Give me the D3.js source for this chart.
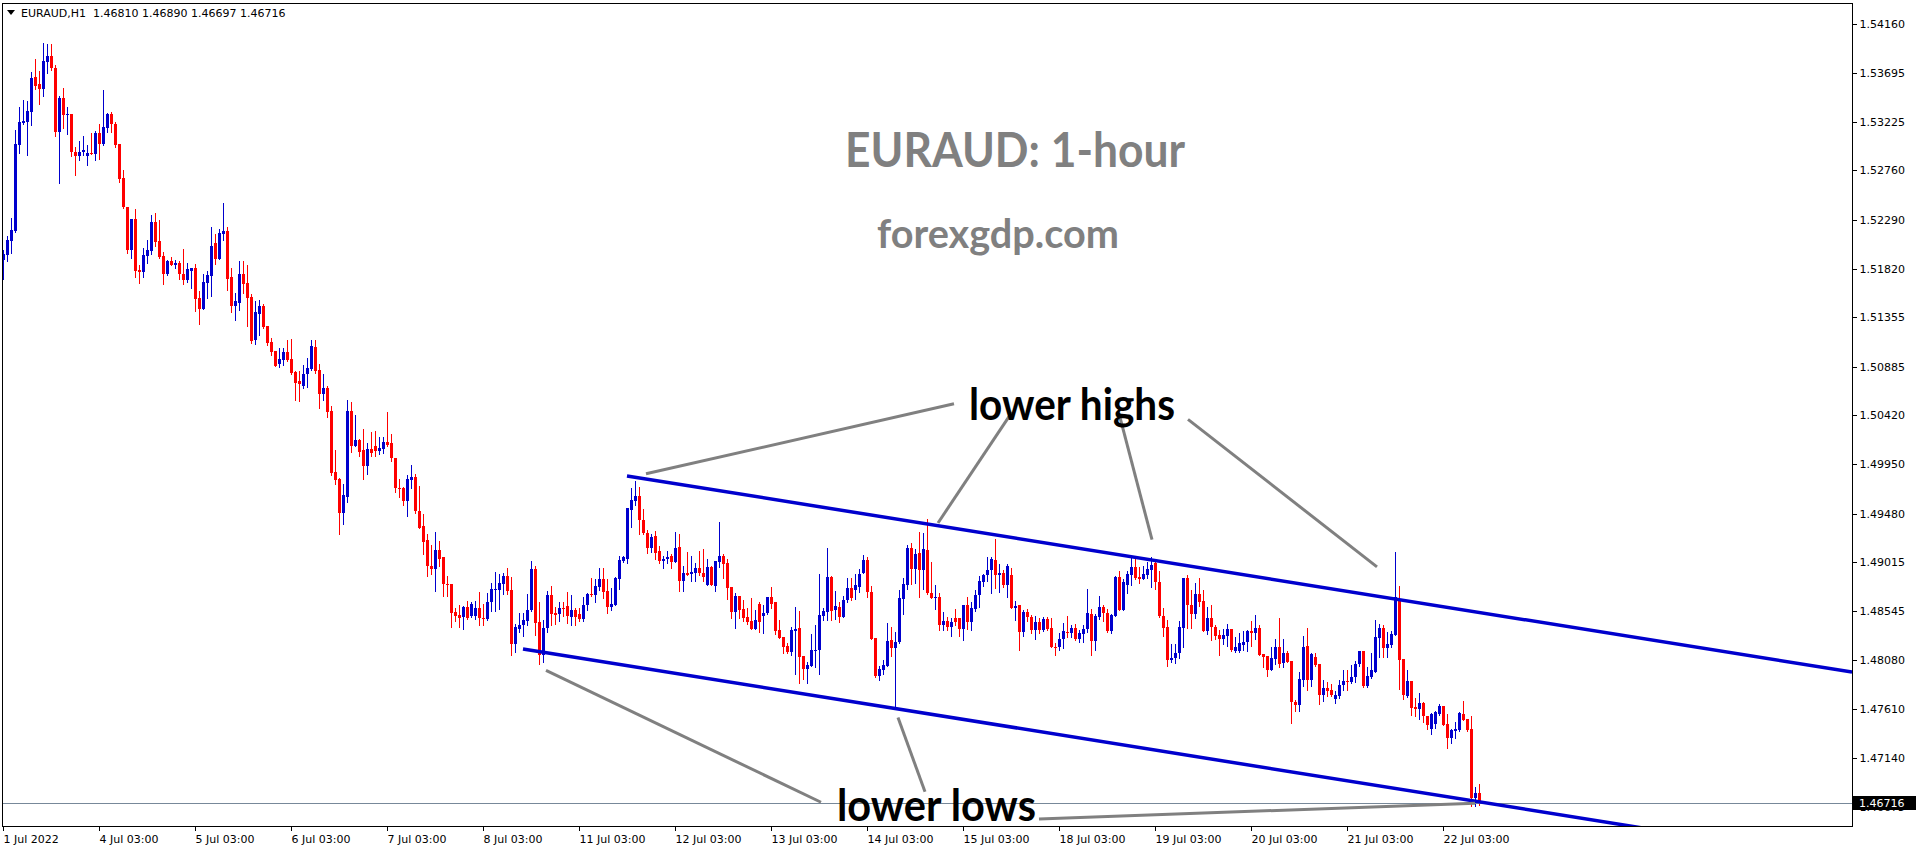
<!DOCTYPE html>
<html><head><meta charset="utf-8">
<script src="https://cdn.jsdelivr.net/npm/d3@7"></script>
<style>
html,body{margin:0;padding:0;background:#fff;overflow:hidden;}
svg{display:block;}
</style></head><body>
<svg id="chart" width="1916" height="850"></svg>
<script>
// ---------- DATA ----------
const symbolLabel = "EURAUD,H1";
const headerOHLC = ["1.46810", "1.46890", "1.46697", "1.46716"];
const chartTitle = "EURAUD: 1-hour";
const chartSite = "forexgdp.com";

const openPrice = [
1.5190,1.5195,1.5209,1.5218,1.5300,1.5321,1.5322,1.5332,1.5365,1.5359,
1.5354,1.5380,1.5385,1.5374,1.5313,1.5345,1.5329,1.5330,1.5294,1.5290,
1.5294,1.5290,1.5293,1.5292,1.5312,1.5301,1.5317,1.5330,1.5320,1.5301,
1.5269,1.5241,1.5200,1.5230,1.5181,1.5179,1.5194,1.5199,1.5227,1.5209,
1.5194,1.5177,1.5189,1.5186,1.5188,1.5177,1.5171,1.5180,1.5183,1.5154,
1.5144,1.5168,1.5175,1.5207,1.5191,1.5215,1.5218,1.5174,1.5146,1.5149,
1.5177,1.5168,1.5155,1.5114,1.5139,1.5146,1.5127,1.5112,1.5103,1.5091,
1.5095,1.5102,1.5096,1.5083,1.5075,1.5070,1.5081,1.5086,1.5107,1.5085,
1.5062,1.5068,1.5046,1.4988,1.4981,1.4949,1.4964,1.5046,1.5013,1.5018,
1.5009,1.4993,1.5010,1.5013,1.5008,1.5010,1.5016,1.5015,1.5001,1.4972,
1.4972,1.4960,1.4980,1.4983,1.4950,1.4936,1.4923,1.4898,1.4895,1.4913,
1.4906,1.4881,1.4881,1.4854,1.4851,1.4849,1.4859,1.4850,1.4850,1.4858,
1.4848,1.4847,1.4863,1.4875,1.4875,1.4881,1.4888,1.4875,1.4823,1.4838,
1.4841,1.4845,1.4856,1.4895,1.4844,1.4813,1.4839,1.4870,1.4853,1.4852,
1.4858,1.4860,1.4849,1.4856,1.4852,1.4847,1.4861,1.4871,1.4870,1.4878,
1.4885,1.4874,1.4859,1.4861,1.4885,1.4903,1.4905,1.4951,1.4960,1.4965,
1.4942,1.4929,1.4915,1.4927,1.4912,1.4903,1.4905,1.4907,1.4902,1.4916,
1.4884,1.4891,1.4890,1.4891,1.4896,1.4891,1.4880,1.4897,1.4879,1.4902,
1.4907,1.4901,1.4878,1.4854,1.4869,1.4857,1.4849,1.4845,1.4838,1.4862,
1.4850,1.4853,1.4868,1.4863,1.4837,1.4830,1.4821,1.4816,1.4836,1.4839,
1.4812,1.4799,1.4802,1.4817,1.4818,1.4850,1.4854,1.4887,1.4856,1.4859,
1.4849,1.4865,1.4877,1.4875,1.4878,1.4891,1.4904,1.4873,1.4829,1.4793,
1.4798,1.4802,1.4827,1.4819,1.4825,1.4866,1.4880,1.4915,1.4895,1.4910,
1.4894,1.4913,1.4872,1.4867,1.4868,1.4841,1.4845,1.4840,1.4848,1.4848,
1.4838,1.4861,1.4844,1.4857,1.4870,1.4883,1.4889,1.4894,1.4904,1.4889,
1.4891,1.4880,1.4889,1.4858,1.4861,1.4835,1.4854,1.4849,1.4837,1.4844,
1.4837,1.4847,1.4839,1.4820,1.4820,1.4828,1.4835,1.4834,1.4839,1.4828,
1.4833,1.4838,1.4852,1.4826,1.4849,1.4859,1.4853,1.4836,1.4850,1.4887,
1.4856,1.4880,1.4889,1.4897,1.4887,1.4885,1.4889,1.4894,1.4901,1.4883,
1.4850,1.4840,1.4808,1.4810,1.4815,1.4839,1.4886,1.4861,1.4852,1.4871,
1.4864,1.4836,1.4848,1.4840,1.4832,1.4828,1.4831,1.4838,1.4817,1.4817,
1.4822,1.4825,1.4836,1.4834,1.4839,1.4814,1.4812,1.4798,1.4809,1.4820,
1.4805,1.4815,1.4807,1.4768,1.4765,1.4789,1.4821,1.4789,1.4811,1.4804,
1.4775,1.4781,1.4779,1.4771,1.4774,1.4784,1.4788,1.4787,1.4792,1.4804,
1.4817,1.4783,1.4792,1.4797,1.4829,1.4839,1.4819,1.4822,1.4832,1.4866,
1.4809,1.4774,1.4788,1.4763,1.4761,1.4767,1.4754,1.4742,1.4747,1.4756,
1.4764,1.4747,1.4733,1.4740,1.4741,1.4756,1.4752,1.4742,1.4676,1.46810
];
const highPrice = [
1.5200,1.5213,1.5231,1.5315,1.5337,1.5343,1.5342,1.5370,1.5383,1.5371,
1.5398,1.5397,1.5397,1.5377,1.5347,1.5355,1.5337,1.5330,1.5298,1.5304,
1.5309,1.5300,1.5312,1.5314,1.5320,1.5353,1.5331,1.5332,1.5322,1.5301,
1.5276,1.5241,1.5230,1.5239,1.5186,1.5202,1.5210,1.5233,1.5235,1.5229,
1.5198,1.5190,1.5193,1.5190,1.5189,1.5201,1.5188,1.5183,1.5187,1.5161,
1.5177,1.5180,1.5222,1.5215,1.5220,1.5245,1.5222,1.5183,1.5159,1.5189,
1.5189,1.5186,1.5158,1.5151,1.5152,1.5148,1.5127,1.5116,1.5103,1.5106,
1.5106,1.5114,1.5115,1.5084,1.5084,1.5090,1.5097,1.5114,1.5114,1.5091,
1.5081,1.5070,1.5051,1.5009,1.4982,1.4976,1.5057,1.5055,1.5042,1.5019,
1.5029,1.5015,1.5026,1.5027,1.5021,1.5021,1.5045,1.5024,1.5001,1.4981,
1.4973,1.4985,1.4994,1.4986,1.4974,1.4948,1.4928,1.4918,1.4930,1.4922,
1.4906,1.4888,1.4881,1.4858,1.4861,1.4860,1.4864,1.4863,1.4864,1.4873,
1.4862,1.4872,1.4882,1.4892,1.4890,1.4891,1.4896,1.4887,1.4842,1.4853,
1.4853,1.4871,1.4903,1.4898,1.4863,1.4846,1.4874,1.4879,1.4859,1.4863,
1.4863,1.4873,1.4870,1.4858,1.4858,1.4868,1.4872,1.4886,1.4885,1.4896,
1.4896,1.4885,1.4877,1.4887,1.4907,1.4907,1.4953,1.4972,1.4979,1.4973,
1.4952,1.4932,1.4928,1.4931,1.4917,1.4907,1.4912,1.4909,1.4930,1.4928,
1.4898,1.4911,1.4907,1.4901,1.4912,1.4914,1.4905,1.4898,1.4903,1.4940,
1.4909,1.4905,1.4878,1.4872,1.4869,1.4865,1.4858,1.4867,1.4856,1.4863,
1.4861,1.4868,1.4878,1.4863,1.4846,1.4830,1.4824,1.4840,1.4859,1.4855,
1.4812,1.4806,1.4833,1.4841,1.4890,1.4858,1.4915,1.4888,1.4874,1.4863,
1.4869,1.4886,1.4886,1.4890,1.4895,1.4908,1.4906,1.4879,1.4829,1.4802,
1.4808,1.4843,1.4840,1.4835,1.4875,1.4886,1.4918,1.4920,1.4914,1.4930,
1.4929,1.4943,1.4902,1.4880,1.4872,1.4854,1.4849,1.4848,1.4857,1.4848,
1.4861,1.4868,1.4863,1.4875,1.4888,1.4890,1.4906,1.4906,1.4924,1.4900,
1.4894,1.4900,1.4896,1.4864,1.4861,1.4856,1.4857,1.4851,1.4850,1.4848,
1.4849,1.4849,1.4848,1.4824,1.4834,1.4843,1.4850,1.4841,1.4842,1.4837,
1.4841,1.4876,1.4857,1.4852,1.4869,1.4861,1.4857,1.4852,1.4888,1.4893,
1.4885,1.4893,1.4907,1.4905,1.4897,1.4898,1.4902,1.4906,1.4905,1.4893,
1.4858,1.4846,1.4823,1.4823,1.4845,1.4886,1.4889,1.4875,1.4882,1.4886,
1.4875,1.4859,1.4861,1.4841,1.4837,1.4838,1.4842,1.4838,1.4830,1.4834,
1.4836,1.4837,1.4845,1.4851,1.4841,1.4814,1.4812,1.4820,1.4828,1.4848,
1.4828,1.4817,1.4807,1.4770,1.4797,1.4831,1.4839,1.4815,1.4815,1.4804,
1.4789,1.4787,1.4785,1.4778,1.4789,1.4798,1.4798,1.4803,1.4807,1.4817,
1.4817,1.4801,1.4815,1.4846,1.4842,1.4841,1.4835,1.4836,1.4911,1.4879,
1.4809,1.4798,1.4788,1.4772,1.4776,1.4768,1.4754,1.4757,1.4759,1.4766,
1.4764,1.4756,1.4742,1.4749,1.4758,1.4769,1.4752,1.4754,1.4687,1.46890
];
const lowPrice = [
1.5172,1.5189,1.5197,1.5217,1.5293,1.5320,1.5291,1.5319,1.5354,1.5340,
1.5347,1.5369,1.5372,1.5309,1.5264,1.5317,1.5311,1.5290,1.5272,1.5286,
1.5291,1.5281,1.5292,1.5286,1.5287,1.5300,1.5313,1.5313,1.5298,1.5265,
1.5240,1.5197,1.5192,1.5174,1.5168,1.5174,1.5188,1.5196,1.5204,1.5192,
1.5167,1.5176,1.5186,1.5183,1.5172,1.5167,1.5169,1.5164,1.5142,1.5129,
1.5144,1.5154,1.5156,1.5187,1.5191,1.5210,1.5162,1.5141,1.5133,1.5143,
1.5159,1.5127,1.5111,1.5110,1.5119,1.5125,1.5109,1.5100,1.5089,1.5088,
1.5090,1.5094,1.5081,1.5057,1.5056,1.5068,1.5069,1.5085,1.5082,1.5049,
1.5057,1.5040,1.4985,1.4976,1.4928,1.4938,1.4959,1.5007,1.5013,1.5003,
1.4981,1.4986,1.5003,1.5003,1.5005,1.5006,1.5013,1.4998,1.4969,1.4964,
1.4956,1.4946,1.4972,1.4949,1.4934,1.4909,1.4888,1.4890,1.4874,1.4898,
1.4869,1.4869,1.4840,1.4845,1.4840,1.4838,1.4847,1.4849,1.4847,1.4841,
1.4841,1.4846,1.4855,1.4855,1.4857,1.4871,1.4871,1.4813,1.4816,1.4835,
1.4831,1.4841,1.4855,1.4832,1.4804,1.4806,1.4835,1.4841,1.4842,1.4845,
1.4850,1.4843,1.4841,1.4841,1.4845,1.4845,1.4856,1.4869,1.4863,1.4875,
1.4867,1.4853,1.4856,1.4861,1.4876,1.4902,1.4901,1.4935,1.4956,1.4928,
1.4928,1.4910,1.4911,1.4905,1.4901,1.4896,1.4901,1.4896,1.4902,1.4874,
1.4874,1.4889,1.4884,1.4884,1.4889,1.4884,1.4880,1.4880,1.4874,1.4897,
1.4886,1.4866,1.4848,1.4839,1.4848,1.4845,1.4842,1.4838,1.4838,1.4835,
1.4834,1.4852,1.4858,1.4833,1.4829,1.4815,1.4815,1.4813,1.4795,1.4786,
1.4790,1.4786,1.4802,1.4801,1.4795,1.4846,1.4846,1.4846,1.4847,1.4844,
1.4849,1.4863,1.4865,1.4866,1.4873,1.4891,1.4868,1.4828,1.4792,1.4789,
1.4795,1.4802,1.4812,1.4764,1.4824,1.4852,1.4876,1.4881,1.4882,1.4868,
1.4876,1.4871,1.4867,1.4857,1.4837,1.4837,1.4837,1.4831,1.4841,1.4831,
1.4827,1.4838,1.4837,1.4855,1.4859,1.4879,1.4884,1.4872,1.4877,1.4873,
1.4878,1.4868,1.4858,1.4846,1.4818,1.4831,1.4845,1.4834,1.4828,1.4834,
1.4836,1.4837,1.4820,1.4813,1.4818,1.4819,1.4830,1.4830,1.4827,1.4825,
1.4825,1.4835,1.4813,1.4818,1.4847,1.4845,1.4835,1.4834,1.4850,1.4856,
1.4856,1.4872,1.4880,1.4885,1.4882,1.4885,1.4886,1.4878,1.4876,1.4849,
1.4831,1.4802,1.4806,1.4805,1.4810,1.4820,1.4839,1.4839,1.4848,1.4860,
1.4836,1.4833,1.4827,1.4828,1.4813,1.4823,1.4821,1.4817,1.4816,1.4816,
1.4818,1.4817,1.4821,1.4828,1.4813,1.4801,1.4793,1.4798,1.4804,1.4801,
1.4801,1.4806,1.4748,1.4759,1.4759,1.4783,1.4779,1.4783,1.4802,1.4766,
1.4769,1.4774,1.4774,1.4767,1.4772,1.4779,1.4779,1.4786,1.4787,1.4802,
1.4782,1.4782,1.4791,1.4797,1.4811,1.4811,1.4811,1.4820,1.4832,1.4780,
1.4771,1.4773,1.4755,1.4754,1.4752,1.4749,1.4742,1.4737,1.4743,1.4755,
1.4746,1.4724,1.4729,1.4733,1.4740,1.4751,1.4740,1.4668,1.4668,1.46697
];
const closePrice = [
1.5196,1.5210,1.5219,1.5301,1.5322,1.5323,1.5333,1.5364,1.5357,1.5354,
1.5381,1.5385,1.5374,1.5313,1.5345,1.5329,1.5330,1.5294,1.5290,1.5294,
1.5296,1.5293,1.5292,1.5312,1.5301,1.5318,1.5330,1.5320,1.5300,1.5268,
1.5241,1.5200,1.5230,1.5180,1.5179,1.5195,1.5200,1.5227,1.5208,1.5193,
1.5177,1.5189,1.5186,1.5188,1.5177,1.5171,1.5182,1.5183,1.5153,1.5144,
1.5169,1.5176,1.5204,1.5191,1.5216,1.5218,1.5172,1.5146,1.5151,1.5177,
1.5167,1.5154,1.5113,1.5141,1.5146,1.5126,1.5111,1.5102,1.5089,1.5096,
1.5102,1.5095,1.5082,1.5073,1.5072,1.5081,1.5087,1.5108,1.5084,1.5062,
1.5068,1.5045,1.4987,1.4980,1.4949,1.4966,1.5046,1.5013,1.5018,1.5007,
1.4993,1.5010,1.5006,1.5008,1.5011,1.5016,1.5014,1.5001,1.4972,1.4971,
1.4960,1.4981,1.4983,1.4950,1.4934,1.4921,1.4898,1.4895,1.4913,1.4905,
1.4881,1.4880,1.4853,1.4850,1.4848,1.4859,1.4848,1.4862,1.4858,1.4848,
1.4847,1.4863,1.4876,1.4876,1.4882,1.4888,1.4874,1.4823,1.4840,1.4841,
1.4846,1.4856,1.4895,1.4843,1.4813,1.4839,1.4870,1.4852,1.4851,1.4858,
1.4857,1.4850,1.4856,1.4849,1.4847,1.4861,1.4871,1.4870,1.4879,1.4885,
1.4873,1.4859,1.4862,1.4886,1.4904,1.4906,1.4953,1.4961,1.4965,1.4942,
1.4929,1.4915,1.4926,1.4910,1.4903,1.4905,1.4906,1.4902,1.4915,1.4884,
1.4891,1.4889,1.4892,1.4896,1.4891,1.4887,1.4897,1.4880,1.4903,1.4907,
1.4900,1.4877,1.4854,1.4869,1.4856,1.4848,1.4844,1.4838,1.4846,1.4844,
1.4853,1.4868,1.4862,1.4836,1.4829,1.4820,1.4816,1.4837,1.4838,1.4811,
1.4799,1.4803,1.4818,1.4818,1.4851,1.4855,1.4887,1.4855,1.4860,1.4849,
1.4865,1.4877,1.4867,1.4880,1.4890,1.4904,1.4873,1.4828,1.4793,1.4799,
1.4803,1.4826,1.4819,1.4825,1.4867,1.4881,1.4915,1.4895,1.4909,1.4894,
1.4914,1.4872,1.4867,1.4868,1.4841,1.4845,1.4840,1.4844,1.4844,1.4838,
1.4861,1.4844,1.4858,1.4870,1.4884,1.4889,1.4894,1.4905,1.4889,1.4891,
1.4880,1.4898,1.4858,1.4860,1.4835,1.4854,1.4849,1.4837,1.4844,1.4837,
1.4847,1.4838,1.4820,1.4819,1.4828,1.4836,1.4834,1.4839,1.4828,1.4834,
1.4838,1.4853,1.4826,1.4850,1.4859,1.4853,1.4836,1.4851,1.4887,1.4856,
1.4883,1.4890,1.4897,1.4886,1.4885,1.4890,1.4895,1.4899,1.4883,1.4850,
1.4839,1.4808,1.4810,1.4815,1.4840,1.4886,1.4861,1.4852,1.4871,1.4863,
1.4836,1.4848,1.4840,1.4831,1.4828,1.4832,1.4838,1.4818,1.4820,1.4824,
1.4825,1.4836,1.4834,1.4839,1.4813,1.4811,1.4798,1.4810,1.4820,1.4804,
1.4815,1.4806,1.4768,1.4765,1.4790,1.4820,1.4789,1.4814,1.4803,1.4775,
1.4781,1.4778,1.4775,1.4775,1.4784,1.4788,1.4787,1.4792,1.4804,1.4817,
1.4783,1.4793,1.4798,1.4830,1.4839,1.4819,1.4823,1.4833,1.4868,1.4808,
1.4775,1.4788,1.4762,1.4761,1.4767,1.4754,1.4746,1.4756,1.4758,1.4764,
1.4746,1.4733,1.4741,1.4742,1.4757,1.4751,1.4741,1.4676,1.4681,1.46716
];

const priceTicks = [1.54160,1.53695,1.53225,1.52760,1.52290,1.51820,1.51355,1.50885,
  1.50420,1.49950,1.49480,1.49015,1.48545,1.48080,1.47610,1.47140,1.46675];
const dateTickBars = [0,24,48,72,96,120,144,168,192,216,240,264,288,312,336,360];
const dateTickLabels = ["1 Jul 2022","4 Jul 03:00","5 Jul 03:00","6 Jul 03:00","7 Jul 03:00",
  "8 Jul 03:00","11 Jul 03:00","12 Jul 03:00","13 Jul 03:00","14 Jul 03:00","15 Jul 03:00",
  "18 Jul 03:00","19 Jul 03:00","20 Jul 03:00","21 Jul 03:00","22 Jul 03:00"];
const lastPrice = 1.46716;

// trend channel anchor points [bar index, price]
const channelUpper = [[156, 1.4984], [347, 1.4867]];
const channelLower = [[130, 1.48185], [369, 1.46724]];
// annotation pointer lines [bar index, price] pairs
const pointerLines = [
  [[237.75, 1.5053], [160.75, 1.4986]],
  [[252.25, 1.5045], [233.75, 1.4939]],
  [[279.25, 1.5040], [287.25, 1.4923]],
  [[296.25, 1.5038], [343.5, 1.4897]],
  [[135.75, 1.4798], [204.5, 1.4672]],
  [[223.75, 1.4753], [230.5, 1.4682]],
  [[259, 1.4656], [368, 1.4671]]
];
const annotationTexts = [
  {text: "lower highs", bar: 241.5, price: 1.5037, width: 206},
  {text: "lower lows", bar: 208.5, price: 1.4654, width: 199}
];

// ---------- LAYOUT ----------
const plot = {left: 2, top: 3, right: 1852, bottom: 826};
const bullColor = "#0000cd", bearColor = "#ff0000";
const svg = d3.select("#chart");

const x = d3.scaleLinear().domain([0, 369]).range([3, 1479]);
const y = d3.scaleLinear().domain([1.46493, 1.54361]).range([plot.bottom, plot.top]);

svg.append("rect").attr("width", 1916).attr("height", 850).attr("fill", "#fff");

svg.append("defs").append("clipPath").attr("id", "plotclip")
  .append("rect").attr("x", plot.left).attr("y", plot.top)
  .attr("width", plot.right - plot.left).attr("height", plot.bottom - plot.top);

const bars = d3.range(openPrice.length).map(i => ({
  i, o: openPrice[i], h: highPrice[i], l: lowPrice[i], c: closePrice[i]
}));

const gC = svg.append("g").attr("clip-path", "url(#plotclip)").attr("shape-rendering", "crispEdges");
// wicks
gC.selectAll("rect.wick").data(bars).join("rect").attr("class", "wick")
  .attr("x", d => Math.round(x(d.i)))
  .attr("width", 1)
  .attr("y", d => Math.round(y(d.h)))
  .attr("height", d => Math.max(1, Math.round(y(d.l)) - Math.round(y(d.h)) + 1))
  .attr("fill", d => d.c >= d.o ? bullColor : bearColor);
// bodies
gC.selectAll("rect.body").data(bars).join("rect").attr("class", "body")
  .attr("x", d => Math.round(x(d.i)) - 1)
  .attr("width", 3)
  .attr("y", d => Math.round(y(Math.max(d.o, d.c))))
  .attr("height", d => Math.max(1, Math.round(y(Math.min(d.o, d.c))) - Math.round(y(Math.max(d.o, d.c)))))
  .attr("fill", d => d.c >= d.o ? bullColor : bearColor);

// current price line
const gL = svg.append("g").attr("clip-path", "url(#plotclip)");
gL.append("line").attr("x1", plot.left).attr("x2", plot.right)
  .attr("y1", Math.round(y(lastPrice)) + 0.5).attr("y2", Math.round(y(lastPrice)) + 0.5)
  .attr("stroke", "#778899").attr("stroke-width", 1);

// channel rays
const barEnd = x.invert(plot.right);
function ray(pts) {
  const [[b1, p1], [b2, p2]] = pts;
  const slope = (p2 - p1) / (b2 - b1);
  return [[b1, p1], [barEnd, p1 + slope * (barEnd - b1)]];
}
[channelUpper, channelLower].forEach(pts => {
  const r = ray(pts);
  gL.append("line")
    .attr("x1", x(r[0][0])).attr("y1", y(r[0][1]))
    .attr("x2", x(r[1][0])).attr("y2", y(r[1][1]))
    .attr("stroke", "#0000cd").attr("stroke-width", 3.5);
});

// pointer lines
pointerLines.forEach(seg => {
  gL.append("line")
    .attr("x1", x(seg[0][0])).attr("y1", y(seg[0][1]))
    .attr("x2", x(seg[1][0])).attr("y2", y(seg[1][1]))
    .attr("stroke", "#808080").attr("stroke-width", 3);
});

// annotation texts
annotationTexts.forEach(a => {
  gL.append("text").attr("x", x(a.bar)).attr("y", y(a.price))
    .attr("font-family", "Lato, 'Open Sans', sans-serif").attr("font-weight", 700)
    .attr("font-size", 44).attr("fill", "#000")
    .attr("textLength", a.width).attr("lengthAdjust", "spacingAndGlyphs")
    .text(a.text);
});

// title texts
svg.append("text").attr("x", 845).attr("y", 167)
  .attr("font-family", "Lato, 'Open Sans', sans-serif").attr("font-weight", 700)
  .attr("font-size", 48).attr("fill", "#808080")
  .attr("textLength", 340).attr("lengthAdjust", "spacingAndGlyphs").text(chartTitle);
svg.append("text").attr("x", 877).attr("y", 248)
  .attr("font-family", "Lato, 'Open Sans', sans-serif").attr("font-weight", 700)
  .attr("font-size", 41).attr("fill", "#808080")
  .attr("textLength", 242).attr("lengthAdjust", "spacingAndGlyphs").text(chartSite);

// frame
svg.append("rect").attr("x", plot.left + 0.5).attr("y", plot.top + 0.5)
  .attr("width", plot.right - plot.left).attr("height", plot.bottom - plot.top)
  .attr("fill", "none").attr("stroke", "#000").attr("stroke-width", 1)
  .attr("shape-rendering", "crispEdges");

const axisFont = "'DejaVu Sans', Verdana, sans-serif";
// right price axis
const yAxis = d3.axisRight(y).tickValues(priceTicks).tickSize(4).tickPadding(3)
  .tickFormat(d3.format(".5f"));
const gy = svg.append("g").attr("transform", `translate(${plot.right + 0.5},0)`).call(yAxis);
gy.select(".domain").remove();
gy.selectAll("line").attr("stroke", "#000").attr("shape-rendering", "crispEdges");
gy.selectAll("text").attr("font-family", axisFont).attr("font-size", 11).attr("fill", "#000");

// bottom date axis
const xAxis = d3.axisBottom(x).tickValues(dateTickBars).tickSize(4)
  .tickFormat((d, k) => dateTickLabels[k]);
const gx = svg.append("g").attr("transform", `translate(0,${plot.bottom + 0.5})`).call(xAxis);
gx.select(".domain").remove();
gx.selectAll("line").attr("stroke", "#000").attr("shape-rendering", "crispEdges");
gx.selectAll("text").attr("font-family", axisFont).attr("font-size", 11).attr("fill", "#000")
  .attr("text-anchor", "start").attr("x", 0).attr("dy", 0).attr("y", 16);

// last price tag
const ly = Math.round(y(lastPrice));
svg.append("rect").attr("x", plot.right + 1).attr("y", ly - 7).attr("width", 63).attr("height", 14)
  .attr("fill", "#000");
svg.append("text").attr("x", plot.right + 7).attr("y", ly + 4)
  .attr("font-family", axisFont).attr("font-size", 11).attr("fill", "#fff")
  .text(d3.format(".5f")(lastPrice));

// header
svg.append("path").attr("d", "M7,10 L15,10 L11,15 Z").attr("fill", "#000");
svg.append("text").attr("x", 21).attr("y", 17)
  .attr("font-family", axisFont).attr("font-size", 11).attr("fill", "#000")
  .attr("xml:space", "preserve")
  .text(symbolLabel + "  " + headerOHLC.join(" "));
</script>
</body></html>
